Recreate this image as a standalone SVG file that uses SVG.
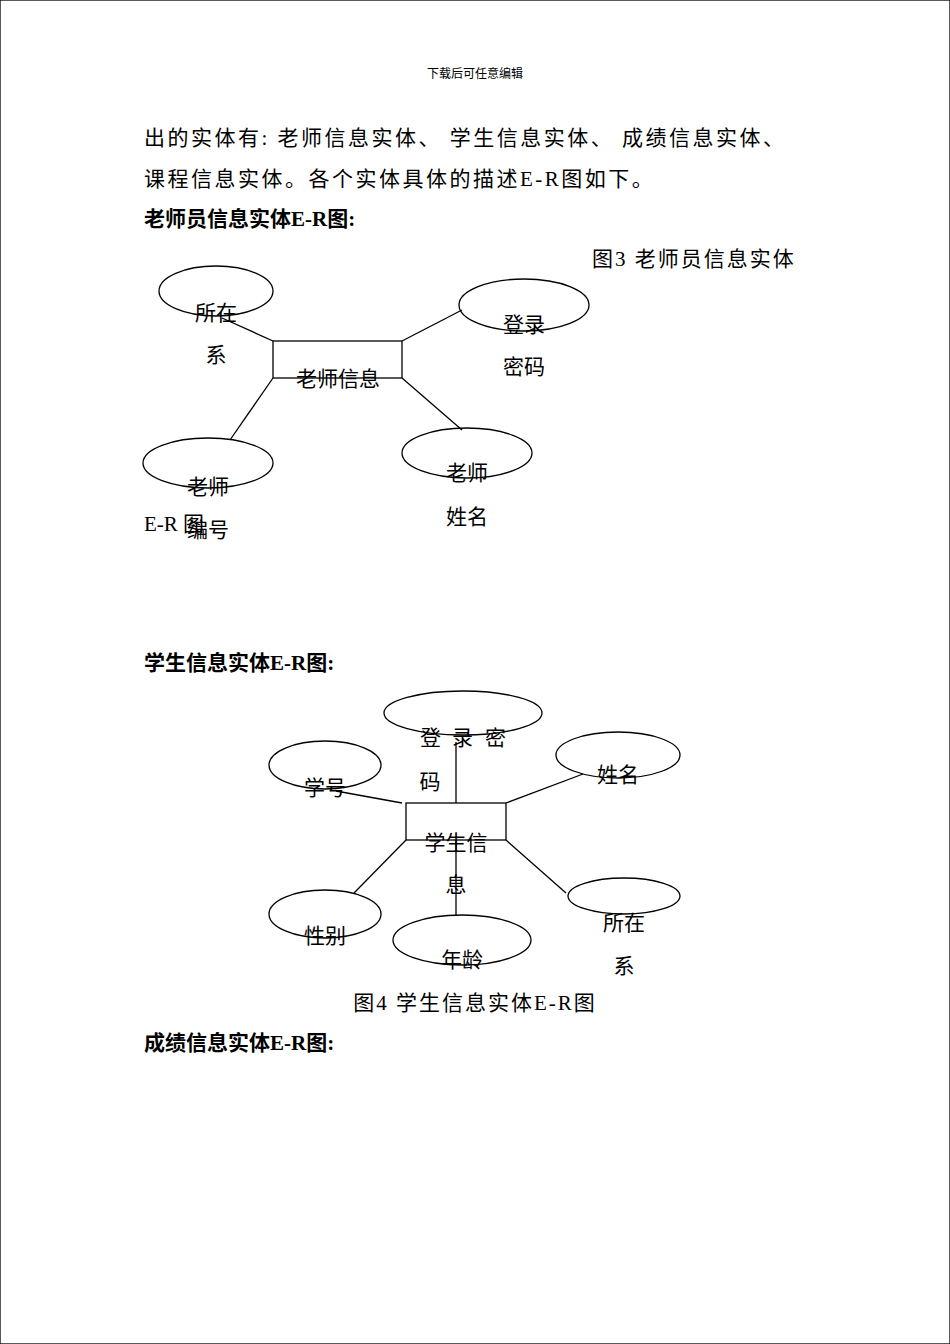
<svg xmlns="http://www.w3.org/2000/svg" width="950" height="1344" viewBox="0 0 950 1344">
<style>
text{font-family:"Liberation Serif","Noto Sans CJK SC",serif;fill:#000;font-size:21px}
.c{text-anchor:middle}
.b{font-weight:bold}
.s{font-size:12px}
.w{letter-spacing:2.5px}
ellipse,rect{fill:none;stroke:#000;stroke-width:1.3}
line{stroke:#000;stroke-width:1.3}
</style>
<rect width="950" height="1344" fill="#fff" stroke="none"/>
<text class="c s" x="475" y="78">下载后可任意编辑</text>
<text class="w" x="144" y="145">出的实体有: 老师信息实体、 学生信息实体、 成绩信息实体、</text>
<text class="w" x="144" y="186">课程信息实体。各个实体具体的描述E-R图如下。</text>
<text class="b" x="144" y="226">老师员信息实体E-R图:</text>
<text x="592" y="266" style="letter-spacing:2px">图3 老师员信息实体</text>
<g id="connectors1">
<line x1="273" y1="341" x2="222" y2="318"/>
<line x1="402" y1="341" x2="462" y2="310"/>
<line x1="273" y1="378" x2="230" y2="440"/>
<line x1="402" y1="378" x2="462" y2="430"/>
</g>
<g id="t-dept"><ellipse cx="216" cy="291" rx="57" ry="25"/><text class="c" x="216" y="320">所在</text><text class="c" x="216" y="362">系</text></g>
<g id="t-pwd"><ellipse cx="524" cy="305" rx="65" ry="26"/><text class="c" x="524" y="332">登录</text><text class="c" x="524" y="374">密码</text></g>
<g id="t-entity"><rect x="273" y="341" width="129" height="37"/><text class="c" x="338" y="386">老师信息</text></g>
<g id="t-id"><ellipse cx="208" cy="463" rx="65" ry="25"/><text class="c" x="208" y="494">老师</text><text class="c" x="208" y="537">编号</text></g>
<g id="t-name"><ellipse cx="467" cy="453" rx="65" ry="25"/><text class="c" x="467" y="480">老师</text><text class="c" x="467" y="524">姓名</text></g>
<text x="144" y="531">E-R 图</text>
<text class="b" x="144" y="670">学生信息实体E-R图:</text>
<g id="connectors2">
<line x1="456" y1="742" x2="456" y2="803"/>
<line x1="456" y1="840" x2="456" y2="915"/>
<line x1="336" y1="791" x2="402" y2="803"/>
<line x1="506" y1="803" x2="583" y2="774"/>
<line x1="406" y1="840" x2="354" y2="893"/>
<line x1="506" y1="840" x2="566" y2="893"/>
</g>
<g id="s-pwd"><ellipse cx="463" cy="713" rx="79" ry="22"/><text x="420" y="745">登</text><text x="452" y="745">录</text><text x="485" y="745">密</text><text class="c" x="430" y="789">码</text></g>
<g id="s-no"><ellipse cx="325" cy="765" rx="56" ry="24"/><text class="c" x="325" y="795">学号</text></g>
<g id="s-name"><ellipse cx="618" cy="755" rx="62" ry="23"/><text class="c" x="618" y="782">姓名</text></g>
<g id="s-entity"><rect x="406" y="803" width="100" height="37"/><text class="c" x="456" y="850">学生信</text><text class="c" x="456" y="892">息</text></g>
<g id="s-sex"><ellipse cx="325" cy="914" rx="56" ry="24"/><text class="c" x="325" y="943">性别</text></g>
<g id="s-age"><ellipse cx="462" cy="940" rx="69" ry="25"/><text class="c" x="462" y="967">年龄</text></g>
<g id="s-dept"><ellipse cx="624" cy="896" rx="56" ry="18"/><text class="c" x="624" y="930">所在</text><text class="c" x="624" y="973">系</text></g>
<text class="c" x="475" y="1010" style="letter-spacing:2px">图4 学生信息实体E-R图</text>
<text class="b" x="144" y="1050">成绩信息实体E-R图:</text>
</svg>
